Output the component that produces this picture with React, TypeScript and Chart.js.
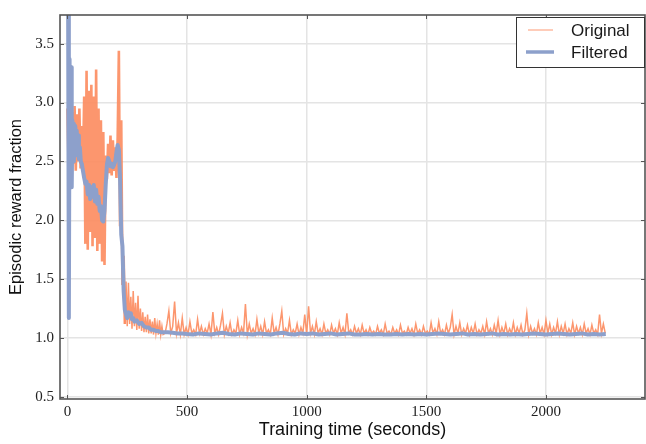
import { useEffect, useRef } from "react";
import { Chart, registerables } from "chart.js";

Chart.register(...registerables);

const seriesLabels = ["Original", "Filtered"];
const xTickValues = [0, 500, 1000, 1500, 2000];
const yTickValues = [0.5, 1.0, 1.5, 2.0, 2.5, 3.0, 3.5];

const originalTimes = [
  0, 5, 10, 15, 20, 25, 30, 35, 40, 45,
  50, 55, 60, 65, 70, 75, 80, 85, 90, 95,
  100, 105, 110, 115, 120, 125, 130, 135, 140, 145,
  150, 155, 160, 165, 170, 175, 180, 185, 190, 195,
  200, 205, 210, 215, 220, 225, 230, 235, 240, 245,
  250, 255, 260, 265, 270, 275, 280, 285, 290, 295,
  300, 305, 310, 315, 320, 325, 330, 335, 340, 345,
  350, 355, 360, 365, 370, 375, 380, 385, 390, 395,
  400,
  408, 416, 424, 432, 440, 448, 456, 464, 472, 480,
  488, 496, 504, 512, 520, 528, 536, 544, 552, 560,
  568, 576, 584, 592, 600, 608, 616, 624, 632, 640,
  648, 656, 664, 672, 680, 688, 696, 704, 712, 720,
  728, 736, 744, 752, 760, 768, 776, 784, 792, 800,
  808, 816, 824, 832, 840, 848, 856, 864, 872, 880,
  888, 896, 904, 912, 920, 928, 936, 944, 952, 960,
  968, 976, 984, 992, 1000, 1008, 1016, 1024, 1032, 1040,
  1048, 1056, 1064, 1072, 1080, 1088, 1096, 1104, 1112, 1120,
  1128, 1136, 1144, 1152, 1160, 1168, 1176, 1184, 1192, 1200,
  1208, 1216, 1224, 1232, 1240, 1248, 1256, 1264, 1272, 1280,
  1288, 1296, 1304, 1312, 1320, 1328, 1336, 1344, 1352, 1360,
  1368, 1376, 1384, 1392, 1400, 1408, 1416, 1424, 1432, 1440,
  1448, 1456, 1464, 1472, 1480, 1488, 1496, 1504, 1512, 1520,
  1528, 1536, 1544, 1552, 1560, 1568, 1576, 1584, 1592, 1600,
  1608, 1616, 1624, 1632, 1640, 1648, 1656, 1664, 1672, 1680,
  1688, 1696, 1704, 1712, 1720, 1728, 1736, 1744, 1752, 1760,
  1768, 1776, 1784, 1792, 1800, 1808, 1816, 1824, 1832, 1840,
  1848, 1856, 1864, 1872, 1880, 1888, 1896, 1904, 1912, 1920,
  1928, 1936, 1944, 1952, 1960, 1968, 1976, 1984, 1992, 2000,
  2008, 2016, 2024, 2032, 2040, 2048, 2056, 2064, 2072, 2080,
  2088, 2096, 2104, 2112, 2120, 2128, 2136, 2144, 2152, 2160,
  2168, 2176, 2184, 2192, 2200, 2208, 2216, 2224, 2232, 2240,
  2248,
];

const originalValues = [
  2.95, 2.45, 2.98, 2.4, 2.92, 2.48, 2.97, 2.42, 2.9, 2.5,
  2.95, 2.44, 2.8, 2.42, 3.05, 1.8, 3.27, 1.75, 3.1, 1.9,
  3.15, 1.78, 3.05, 1.85, 3.28, 1.74, 2.95, 1.8, 2.85, 1.65,
  2.75, 1.62, 2.55, 2.35, 2.65, 2.4, 2.72, 2.38, 2.68, 2.42,
  2.62, 2.36, 2.7, 3.44, 1.95, 2.85, 1.45, 1.7, 1.12, 1.48,
  1.1, 1.47, 1.12, 1.35, 1.08, 1.4, 1.1, 1.3, 1.07, 1.36,
  1.08, 1.25, 1.06, 1.22, 1.05, 1.18, 1.05, 1.2, 1.04, 1.16,
  1.04, 1.14, 1.03, 1.17, 1.04, 1.12, 1.03, 1.15, 1.03, 1.1,
  1.03,
  1.04, 1.12, 1.23, 1.04, 1.1, 1.31, 1.04, 1.13, 1.03, 1.17,
  1.03, 1.09, 1.03, 1.14, 1.04, 1.07, 1.03, 1.16, 1.04, 1.1,
  1.03, 1.08, 1.04, 1.12, 1.03, 1.22, 1.04, 1.09, 1.03, 1.11,
  1.21, 1.03, 1.1, 1.04, 1.13, 1.03, 1.07, 1.04, 1.15, 1.03,
  1.09, 1.04, 1.29, 1.03, 1.12, 1.04, 1.08, 1.03, 1.16, 1.04,
  1.1, 1.03, 1.14, 1.04, 1.07, 1.03, 1.17, 1.04, 1.09, 1.03,
  1.12, 1.23, 1.03, 1.08, 1.04, 1.15, 1.03, 1.07, 1.04, 1.12,
  1.03, 1.09, 1.04, 1.2, 1.03, 1.27, 1.04, 1.1, 1.03, 1.14,
  1.04, 1.08, 1.03, 1.12, 1.04, 1.07, 1.03, 1.11, 1.04, 1.08,
  1.03, 1.13, 1.04, 1.09, 1.03, 1.21, 1.04, 1.07, 1.03, 1.1,
  1.04, 1.08, 1.03, 1.11, 1.04, 1.07, 1.03, 1.09, 1.04, 1.06,
  1.03, 1.1, 1.04, 1.07, 1.03, 1.12, 1.04, 1.06, 1.03, 1.09,
  1.04, 1.07, 1.03, 1.11, 1.04, 1.06, 1.03, 1.09, 1.04, 1.08,
  1.03, 1.12, 1.04, 1.07, 1.03, 1.1, 1.04, 1.06, 1.03, 1.13,
  1.04, 1.08, 1.03, 1.14, 1.04, 1.07, 1.03, 1.11, 1.04, 1.09,
  1.2, 1.03, 1.1, 1.04, 1.13, 1.03, 1.08, 1.04, 1.11, 1.03,
  1.09, 1.04, 1.12, 1.03, 1.07, 1.04, 1.1, 1.03, 1.14, 1.04,
  1.08, 1.03, 1.11, 1.04, 1.15, 1.03, 1.09, 1.04, 1.12, 1.03,
  1.08, 1.04, 1.13, 1.03, 1.09, 1.04, 1.11, 1.03, 1.07, 1.21,
  1.03, 1.1, 1.04, 1.08, 1.03, 1.13, 1.04, 1.09, 1.03, 1.15,
  1.04, 1.12, 1.03, 1.09, 1.04, 1.14, 1.03, 1.1, 1.04, 1.12,
  1.03, 1.08, 1.04, 1.13, 1.03, 1.1, 1.04, 1.09, 1.03, 1.12,
  1.04, 1.08, 1.03, 1.11, 1.04, 1.07, 1.03, 1.2, 1.04, 1.12,
  1.04,
];

const filteredTimes = [
  0, 3, 6, 9, 12, 15, 18, 21, 24, 27,
  30, 33, 36, 39, 42, 45, 48, 52, 56, 60,
  65, 70, 75, 80, 85, 90, 95, 100, 105, 110,
  115, 120, 125, 130, 135, 140, 145, 150, 155, 160,
  165, 170, 175, 180, 185, 190, 195, 200, 205, 210,
  215, 220, 225, 230, 235, 240, 245, 250, 255, 260,
  265, 270, 275, 280, 290, 300, 310, 320, 330, 340,
  350, 360, 370, 380, 390, 400, 420, 440, 460, 480,
  500, 525, 550, 575, 600, 625, 650, 675, 700, 725,
  750, 775, 800, 825, 850, 875, 900, 925, 950, 975,
  1000, 1025, 1050, 1075, 1100, 1125, 1150, 1175, 1200, 1225,
  1250, 1275, 1300, 1325, 1350, 1375, 1400, 1425, 1450, 1475,
  1500, 1525, 1550, 1575, 1600, 1625, 1650, 1675, 1700, 1725,
  1750, 1775, 1800, 1825, 1850, 1875, 1900, 1925, 1950, 1975,
  2000, 2025, 2050, 2075, 2100, 2125, 2150, 2175, 2200, 2225,
  2250,
];

const filteredValues = [
  3.95, 3.85, 1.17, 3.37, 2.3, 3.3, 2.28, 2.85, 2.5, 2.82,
  2.55, 2.8, 2.58, 2.76, 2.55, 2.72, 2.52, 2.62, 2.5, 2.48,
  2.42, 2.36, 2.31, 2.33, 2.22, 2.3, 2.18, 2.28, 2.2, 2.3,
  2.16, 2.26, 2.14, 2.2, 2.08, 2.12, 2.0, 1.99, 2.08, 2.3,
  2.47, 2.53, 2.5, 2.46, 2.48, 2.45, 2.47, 2.5, 2.58, 2.64,
  2.6, 2.35, 1.88, 1.78, 1.4, 1.24, 1.2, 1.17, 1.22, 1.19,
  1.21, 1.16, 1.17, 1.14, 1.15, 1.12, 1.13, 1.1, 1.09, 1.09,
  1.07, 1.07, 1.06, 1.06, 1.05, 1.05, 1.05, 1.045, 1.04, 1.04,
  1.035, 1.03, 1.04, 1.035, 1.03, 1.04, 1.045, 1.035, 1.03, 1.04,
  1.035, 1.03, 1.04, 1.035, 1.03, 1.04, 1.045, 1.035, 1.03, 1.04,
  1.035, 1.04, 1.03, 1.035, 1.04, 1.03, 1.035, 1.04, 1.03, 1.03,
  1.035, 1.03, 1.035, 1.03, 1.03, 1.035, 1.03, 1.035, 1.03, 1.035,
  1.03, 1.035, 1.04, 1.035, 1.03, 1.035, 1.04, 1.03, 1.035, 1.03,
  1.035, 1.04, 1.03, 1.035, 1.03, 1.035, 1.03, 1.035, 1.04, 1.035,
  1.03, 1.035, 1.04, 1.035, 1.03, 1.035, 1.04, 1.03, 1.035, 1.03,
  1.035,
];

const ORANGE = "rgba(252, 141, 98, 0.92)";
const ORANGE_LEGEND = "rgba(252, 141, 98, 0.6)";
const BLUE = "#8da0cb";
const FRAME = "#555555";
const SERIF = "'Liberation Serif', 'DejaVu Serif', serif";
const SANS = "'Liberation Sans', Arial, sans-serif";

const framePlugin = {
  id: "frameAndTicks",
  afterDatasetsDraw(chart: any) {
    const { ctx, chartArea } = chart;
    const { left, right, top, bottom } = chartArea;
    const xs = chart.scales.x;
    const ys = chart.scales.y;
    const len = 4;
    ctx.save();
    ctx.strokeStyle = FRAME;
    ctx.lineWidth = 1;
    ctx.beginPath();
    xTickValues.forEach((v) => {
      const px = Math.round(xs.getPixelForValue(v)) + 0.5;
      ctx.moveTo(px, bottom);
      ctx.lineTo(px, bottom - len);
      ctx.moveTo(px, top);
      ctx.lineTo(px, top + len);
    });
    yTickValues.forEach((v) => {
      const py = Math.round(ys.getPixelForValue(v)) + 0.5;
      ctx.moveTo(left, py);
      ctx.lineTo(left + len, py);
      ctx.moveTo(right, py);
      ctx.lineTo(right - len, py);
    });
    ctx.stroke();
    ctx.lineWidth = 1.6;
    ctx.strokeStyle = FRAME;
    ctx.strokeRect(left, top, right - left, bottom - top);
    ctx.restore();
  },
};

const legendPlugin = {
  id: "customLegend",
  afterDraw(chart: any) {
    const { ctx } = chart;
    const bx = 516.5;
    const by = 17.5;
    const bw = 128;
    const bh = 50;
    ctx.save();
    ctx.fillStyle = "#ffffff";
    ctx.fillRect(bx, by, bw, bh);
    ctx.strokeStyle = "#333333";
    ctx.lineWidth = 1;
    ctx.strokeRect(bx, by, bw, bh);
    const rows = [
      { label: seriesLabels[0], color: ORANGE_LEGEND, width: 1.5, y: 30, x0: 528, x1: 553 },
      { label: seriesLabels[1], color: BLUE, width: 3.5, y: 52, x0: 526, x1: 554 },
    ];
    rows.forEach((r) => {
      ctx.strokeStyle = r.color;
      ctx.lineWidth = r.width;
      ctx.beginPath();
      ctx.moveTo(r.x0, r.y);
      ctx.lineTo(r.x1, r.y);
      ctx.stroke();
      ctx.fillStyle = "#1a1a1a";
      ctx.font = `17px ${SANS}`;
      ctx.textBaseline = "middle";
      ctx.textAlign = "left";
      ctx.fillText(r.label, 571, r.y + 1);
    });
    ctx.restore();
  },
};

export default function App() {
  const canvasRef = useRef<HTMLCanvasElement | null>(null);

  useEffect(() => {
    const canvas = canvasRef.current;
    if (!canvas) return;
    const origData = originalTimes.map((t, i) => ({ x: t, y: originalValues[i] }));
    const filtData = filteredTimes.map((t, i) => ({ x: t, y: filteredValues[i] }));

    const chart = new Chart(canvas, {
      type: "line",
      data: {
        datasets: [
          {
            label: seriesLabels[0],
            data: origData,
            borderColor: ORANGE,
            borderWidth: 1.5,
            pointRadius: 0,
            tension: 0,
            fill: false,
            order: 2,
            segment: {
              borderWidth: (ctx: any) => (ctx.p0.parsed.x < 236 ? 2.6 : 1.5),
            },
          },
          {
            label: seriesLabels[1],
            data: filtData,
            borderColor: BLUE,
            borderWidth: 4,
            pointRadius: 0,
            tension: 0,
            fill: false,
            borderJoinStyle: "round",
            order: 1,
          },
        ],
      },
      options: {
        animation: false,
        responsive: false,
        maintainAspectRatio: false,
        devicePixelRatio: 1,
        layout: { padding: { top: 10, right: 1, left: 0, bottom: 0 } },
        plugins: {
          legend: { display: false },
          tooltip: { enabled: false },
        },
        scales: {
          x: {
            type: "linear",
            min: -31,
            max: 2414,
            afterBuildTicks: (axis: any) => {
              axis.ticks = xTickValues.map((v) => ({ value: v }));
            },
            afterFit: (axis: any) => {
              axis.height = 45;
            },
            grid: { color: "#e4e4e4", lineWidth: 1.5, drawTicks: false },
            border: { display: false },
            ticks: {
              font: { family: SERIF, size: 15 },
              color: "#222222",
              padding: 4,
              maxRotation: 0,
              autoSkip: false,
              callback: (v: any) => String(v),
            },
            title: {
              display: true,
              text: "Training time (seconds)",
              font: { family: SANS, size: 18 },
              color: "#111111",
              padding: { top: 0, bottom: 3 },
            },
          },
          y: {
            type: "linear",
            min: 0.483,
            max: 3.743,
            afterBuildTicks: (axis: any) => {
              axis.ticks = yTickValues.map((v) => ({ value: v }));
            },
            afterFit: (axis: any) => {
              axis.width = 60;
            },
            grid: { color: "#e4e4e4", lineWidth: 1.5, drawTicks: false },
            border: { display: false },
            ticks: {
              font: { family: SERIF, size: 15 },
              color: "#222222",
              padding: 6,
              autoSkip: false,
              callback: (v: any) => Number(v).toFixed(1),
            },
            title: {
              display: true,
              text: "Episodic reward fraction",
              font: { family: SANS, size: 16.5 },
              color: "#111111",
              padding: { top: 7, bottom: 0 },
            },
          },
        },
      },
      plugins: [framePlugin, legendPlugin],
    });

    return () => {
      chart.destroy();
    };
  }, []);

  return (
    <div style={{ position: "absolute", left: 0, top: 0, width: 646, height: 444, background: "#ffffff" }}>
      <canvas ref={canvasRef} width={646} height={444} style={{ display: "block" }} />
    </div>
  );
}
